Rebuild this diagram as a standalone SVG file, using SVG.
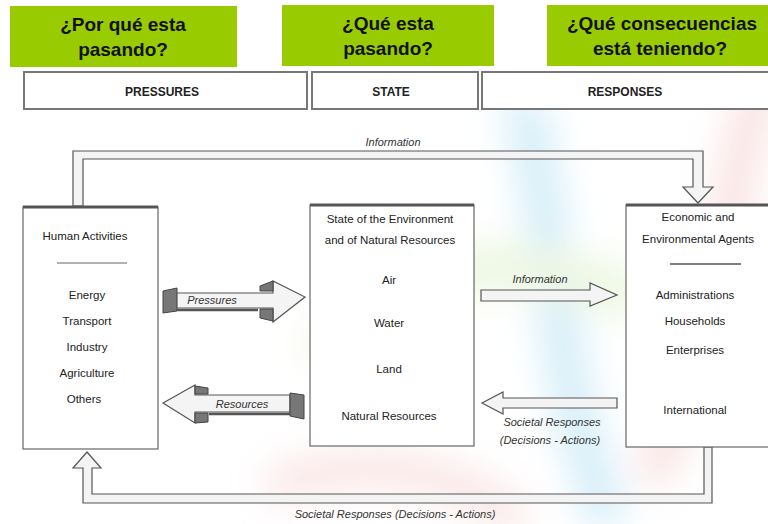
<svg xmlns="http://www.w3.org/2000/svg" width="768" height="524" viewBox="0 0 768 524">
<style>
.q{font-family:"Liberation Sans",Arial,sans-serif;font-weight:bold;font-size:19px;fill:#111;text-anchor:middle}
.h{font-family:"Liberation Sans",Arial,sans-serif;font-weight:bold;font-size:12px;fill:#222;text-anchor:middle}
.t{font-family:"Liberation Sans",Arial,sans-serif;font-size:11.5px;fill:#222;text-anchor:middle}
.i{font-family:"Liberation Sans",Arial,sans-serif;font-size:11px;font-style:italic;fill:#333;text-anchor:middle}
.g{fill:#99cc00}
.hb{fill:#fff;stroke:#777;stroke-width:2}
.box{fill:#fff;stroke:#666;stroke-width:1.2}
.top{stroke:#555;stroke-width:3}
.arr{fill:#f4f4f4;stroke:#555;stroke-width:1.2;stroke-linejoin:miter}
.dk{fill:#777;stroke:#444;stroke-width:1}
</style>
<defs>
<filter id="blur" x="-50%" y="-50%" width="200%" height="200%"><feGaussianBlur stdDeviation="18"/></filter>
<linearGradient id="sh" x1="0" y1="0" x2="0" y2="1"><stop offset="0" stop-color="#fafafa"/><stop offset="1" stop-color="#d8d8d8"/></linearGradient>
</defs>
<rect width="768" height="524" fill="#fff"/>
<g id="background" filter="url(#blur)" fill="none" opacity="0.5">
<path d="M520 100 C560 220 545 360 610 524" stroke="#a9dcf2" stroke-width="40"/>
<path d="M768 80 C720 160 740 300 650 480" stroke="#f4c4c4" stroke-width="36"/>
<path d="M320 360 C420 250 520 250 640 300" stroke="#dbefc4" stroke-width="46"/>
<path d="M270 490 C360 450 460 470 520 524" stroke="#f6cccc" stroke-width="36"/>
</g>
<g id="q1"><rect class="g" x="10" y="6" width="227" height="61"/><text class="q" x="123" y="31">¿Por qué esta</text><text class="q" x="123" y="56">pasando?</text></g>
<g id="q2"><rect class="g" x="282" y="5" width="212" height="61"/><text class="q" x="388" y="30">¿Qué esta</text><text class="q" x="388" y="55">pasando?</text></g>
<g id="q3"><rect class="g" x="547" y="5" width="221" height="61"/><text class="q" x="662" y="30">¿Qué consecuencias</text><text class="q" x="660" y="55">está teniendo?</text></g>
<g id="h1"><rect class="hb" x="24" y="72" width="283" height="37"/><text class="h" x="162" y="96">PRESSURES</text></g>
<g id="h2"><rect class="hb" x="312" y="72" width="166" height="37"/><text class="h" x="391" y="96">STATE</text></g>
<g id="h3"><rect class="hb" x="482" y="72" width="290" height="37"/><text class="h" x="625" y="96">RESPONSES</text></g>
<g id="connectors">
<path class="arr" d="M73 206 V151 H703 V187 H713 L698 203 L683 187 H693 V159 H83 V206 Z"/>
<text class="i" x="393" y="146">Information</text>
<path class="arr" d="M704 447 V494 H92 V468 H101 L87 452 L73 468 H83 V503 H712 V447 Z"/>
<text class="i" x="395" y="518">Societal Responses (Decisions - Actions)</text>
<g id="pressures-arrow">
<polygon class="dk" points="163,291 177,288 177,311 163,313"/>
<line x1="177" y1="310" x2="258" y2="310" stroke="#555" stroke-width="2.5"/>
<polygon class="arr" fill="#fff" points="177,293 273,293 273,281 305,297 273,322 273,308 177,308"/>
<polygon class="dk" points="260,286 273,281 273,291 260,291"/>
<polygon class="dk" points="260,309 273,309 273,321 260,318"/>
<text class="i" x="212" y="304">Pressures</text>
</g>
<g id="resources-arrow">
<line x1="209" y1="414" x2="290" y2="414" stroke="#555" stroke-width="2.5"/>
<polygon class="arr" fill="#fff" points="290,395 195,395 195,385 163,403 195,423 195,412 290,412"/>
<polygon class="dk" points="290,393 304,395 304,419 290,416"/>
<polygon class="dk" points="195,386 208,388 208,394 195,394"/>
<polygon class="dk" points="195,413 208,413 208,422 195,423"/>
<text class="i" x="242" y="408">Resources</text>
</g>
<g id="info-arrow">
<polygon class="arr" fill="url(#sh)" points="481,290 590,290 590,283 617,295 590,306 590,301 481,301"/>
<text class="i" x="540" y="283">Information</text>
</g>
<g id="societal-arrow">
<polygon class="arr" points="617,398 503,398 503,392 482,403 503,414 503,408 617,408"/>
<text class="i" x="552" y="426">Societal Responses</text>
<text class="i" x="550" y="444">(Decisions - Actions)</text>
</g>
</g>
<g id="human">
<rect class="box" x="23" y="207" width="135" height="242"/>
<line class="top" x1="23" y1="207" x2="158" y2="207"/>
<text class="t" x="85" y="240">Human Activities</text>
<line x1="57" y1="263" x2="127" y2="263" stroke="#666" stroke-width="1.2"/>
<text class="t" x="87" y="299">Energy</text>
<text class="t" x="87" y="325">Transport</text>
<text class="t" x="87" y="351">Industry</text>
<text class="t" x="87" y="377">Agriculture</text>
<text class="t" x="84" y="403">Others</text>
</g>
<g id="state">
<rect class="box" x="310" y="205" width="164" height="241"/>
<line class="top" x1="310" y1="205" x2="474" y2="205"/>
<text class="t" x="390" y="223">State of the Environment</text>
<text class="t" x="390" y="244">and of Natural Resources</text>
<text class="t" x="389" y="284">Air</text>
<text class="t" x="389" y="327">Water</text>
<text class="t" x="389" y="373">Land</text>
<text class="t" x="389" y="420">Natural Resources</text>
</g>
<g id="agents">
<rect class="box" x="626" y="205" width="150" height="242"/>
<line class="top" x1="626" y1="205" x2="768" y2="205"/>
<text class="t" x="698" y="221">Economic and</text>
<text class="t" x="698" y="243">Environmental Agents</text>
<line x1="670" y1="264" x2="741" y2="264" stroke="#555" stroke-width="1.5"/>
<text class="t" x="695" y="299">Administrations</text>
<text class="t" x="695" y="325">Households</text>
<text class="t" x="695" y="354">Enterprises</text>
<text class="t" x="695" y="414">International</text>
</g>
</svg>
